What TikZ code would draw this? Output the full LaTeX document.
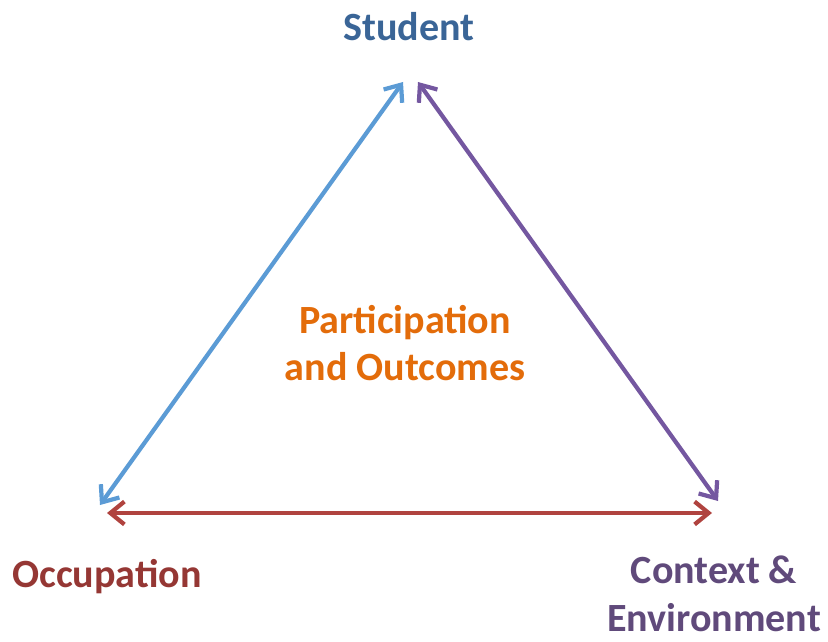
\documentclass[tikz,border=0pt]{standalone}
\usepackage{fontspec}
\setmainfont{Carlito}
\usetikzlibrary{arrows.meta}

\definecolor{studblue}{HTML}{3A6597}
\definecolor{occred}{HTML}{953734}
\definecolor{ctxpurple}{HTML}{604A7B}
\definecolor{partorange}{HTML}{E36C0A}
\definecolor{arrblue}{HTML}{5B9BD5}
\definecolor{arrpurple}{HTML}{7457A0}
\definecolor{arrred}{HTML}{B0433F}

\begin{document}
\begin{tikzpicture}
      [   x=0.02cm,y=-0.02cm,
          label/.style={text=#1,font=\fontsize{22.8}{27}\selectfont\bfseries,align=center,inner sep=0pt},
          link/.style={draw=#1,line width=2.4pt,{Straight Barb[length=8pt,width=13pt,line width=2.4pt]}-{Straight Barb[length=8pt,width=13pt,line width=2.4pt]}},
      ]
          \useasboundingbox (0,0) rectangle (828,642);

          \node[label=studblue] (student) at (409,27) {Student};
          \node[label=occred] (occup) at (107,577) {Occupation};
          \node[label=ctxpurple] (context) at (714,594) {Context \&\\Environment};
          \node[label=partorange] (part) at (405,343) {Participation\\and Outcomes};

          % corners of the triangle
          \coordinate (topl) at (403,82);
          \coordinate (topr) at (418,82);
          \coordinate (botl) at (100,505);
          \coordinate (botlr) at (107,513);
          \coordinate (botr) at (718,501);
          \coordinate (botrl) at (712,513);

          \draw[link=arrblue] (botl) -- (topl);
          \draw[link=arrpurple] (topr) -- (botr);
          \draw[link=arrred] (botlr) -- (botrl);
    \end{tikzpicture}
\end{document}
